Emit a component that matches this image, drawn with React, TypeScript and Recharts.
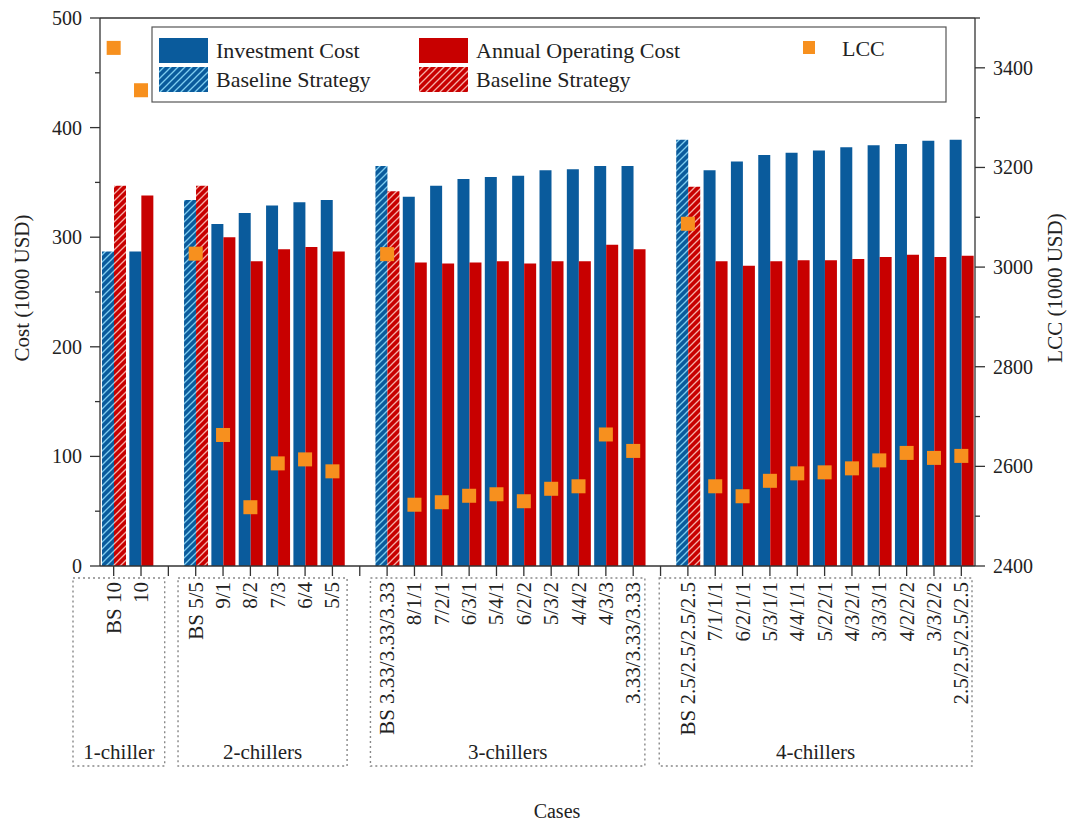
import React from "react";
import { Bar, Cell, ComposedChart, ReferenceLine, Scatter, XAxis, YAxis } from "recharts";

// cases per group, in drawing order
const GROUP_NAMES = ["1-chiller", "2-chillers", "3-chillers", "4-chillers"];
const GROUP_SIZES = [2, 6, 10, 11];
const CASES = [
  "BS 10", "10",
  "BS 5/5", "9/1", "8/2", "7/3", "6/4", "5/5",
  "BS 3.33/3.33/3.33", "8/1/1", "7/2/1", "6/3/1", "5/4/1", "6/2/2", "5/3/2", "4/4/2", "4/3/3", "3.33/3.33/3.33",
  "BS 2.5/2.5/2.5/2.5", "7/1/1/1", "6/2/1/1", "5/3/1/1", "4/4/1/1", "5/2/2/1", "4/3/2/1", "3/3/3/1", "4/2/2/2", "3/3/2/2", "2.5/2.5/2.5/2.5",
];
// 1000 USD
const INVESTMENT = [
  287, 287,
  334, 312, 322, 329, 332, 334,
  365, 337, 347, 353, 355, 356, 361, 362, 365, 365,
  389, 361, 369, 375, 377, 379, 382, 384, 385, 388, 389,
];
const OPERATING = [
  347, 338,
  347, 300, 278, 289, 291, 287,
  342, 277, 276, 277, 278, 276, 278, 278, 293, 289,
  346, 278, 274, 278, 279, 279, 280, 282, 284, 282, 283,
];
const LCC = [
  3440, 3355,
  3027, 2663, 2518, 2606, 2614, 2590,
  3026, 2523, 2528, 2541, 2544, 2530, 2555, 2560, 2664, 2631,
  3087, 2560, 2540, 2571, 2586, 2588, 2596, 2612, 2627, 2617, 2621,
];
const COST_TICKS = [0, 50, 100, 150, 200, 250, 300, 350, 400, 450, 500];
const LCC_TICKS = [2400, 2500, 2600, 2700, 2800, 2900, 3000, 3100, 3200, 3300, 3400, 3500];

const BLUE = "#0a5b9c";
const RED = "#c80000";
const ORANGE = "#f7901e";
const INK = "#222";
const AXIS = "#333";
const FONT = "'Liberation Serif', 'Times New Roman', serif";

const W = 1072;
const H = 825;
const PLOT_L = 100;
const PLOT_R = 975;
const PLOT_T = 18;
const PLOT_B = 566;
const X_AXIS_H = 60;
// extra room left/right of each group box, px
const BOX_PAD = [[27, 10], [4, 1], [3, -2], [15, -3]];

type Row = { key: string; label: string; inv?: number; op?: number; lcc?: number; bs: boolean };

const rows: Row[] = [];
{
  let i = 0;
  GROUP_SIZES.forEach((n, g) => {
    for (let k = 0; k < n; k++, i++) {
      rows.push({
        key: CASES[i],
        label: CASES[i],
        inv: INVESTMENT[i],
        op: OPERATING[i],
        lcc: LCC[i],
        bs: CASES[i].startsWith("BS "),
      });
    }
    if (g < GROUP_SIZES.length - 1) rows.push({ key: `gap${g}`, label: "", bs: false });
  });
}

function CaseTick(props: any) {
  const { x, y, payload } = props;
  const row = rows.find((r) => r.key === payload.value);
  if (!row || !row.label) return null;
  return (
    <text
      x={x}
      y={y}
      transform={`rotate(-90 ${x} ${y})`}
      textAnchor="end"
      dominantBaseline="central"
      fontSize={21}
      fontFamily={FONT}
      fill={INK}
    >
      {row.label}
    </text>
  );
}

function CostTick(props: any) {
  const { x, y, payload } = props;
  const major = payload.value % 100 === 0;
  const ax = x + 18;
  return (
    <g>
      <line x1={ax - (major ? 10 : 5)} x2={ax} y1={y} y2={y} stroke={AXIS} strokeWidth={1.3} />
      {major && (
        <text x={x} y={y} textAnchor="end" dominantBaseline="central" fontSize={20} fontFamily={FONT} fill={INK}>
          {payload.value}
        </text>
      )}
    </g>
  );
}

function LccTick(props: any) {
  const { x, y, payload } = props;
  const major = (payload.value - 2400) % 200 === 0;
  const ax = x - 18;
  return (
    <g>
      <line x1={ax} x2={ax + (major ? 10 : 5)} y1={y} y2={y} stroke={AXIS} strokeWidth={1.3} />
      {major && (
        <text x={x} y={y} textAnchor="start" dominantBaseline="central" fontSize={20} fontFamily={FONT} fill={INK}>
          {payload.value}
        </text>
      )}
    </g>
  );
}

function LccSquare(props: any) {
  const { cx, cy, payload } = props;
  if (payload?.lcc == null || !Number.isFinite(cx) || !Number.isFinite(cy)) return null;
  return <rect x={cx - 7} y={cy - 7} width={14} height={14} fill={ORANGE} />;
}

function Overlay() {
  const slots = rows.length;
  const band = (PLOT_R - PLOT_L) / slots;
  let start = 0;
  const boxes = GROUP_SIZES.map((n, g) => {
    const x1 = PLOT_L + start * band - BOX_PAD[g][0];
    const x2 = PLOT_L + (start + n) * band + BOX_PAD[g][1];
    start += n + 1;
    return { name: GROUP_NAMES[g], x1, x2 };
  });
  const legendText = { fontSize: 22, fontFamily: FONT, fill: INK } as const;
  return (
    <svg width={W} height={H} style={{ position: "absolute", left: 0, top: 0, pointerEvents: "none" }}>
      <defs>
        <pattern id="hatchBlue" patternUnits="userSpaceOnUse" width={7} height={7}>
          <rect width={7} height={7} fill={BLUE} />
          <path d="M-1,1 l2,-2 M0,7 l7,-7 M6,8 l2,-2" stroke="#7fcdf0" strokeWidth={1.3} />
        </pattern>
        <pattern id="hatchRed" patternUnits="userSpaceOnUse" width={7} height={7}>
          <rect width={7} height={7} fill={RED} />
          <path d="M-1,1 l2,-2 M0,7 l7,-7 M6,8 l2,-2" stroke="#f5b0a8" strokeWidth={1.3} />
        </pattern>
      </defs>

      {/* legend */}
      <rect x={152} y={27} width={794} height={75} fill="#fff" stroke="#555" strokeWidth={1.2} />
      <rect x={159} y={38} width={49} height={25} fill={BLUE} />
      <rect x={159} y={67} width={49} height={25} fill="url(#hatchBlue)" />
      <text x={216} y={58} {...legendText}>Investment Cost</text>
      <text x={216} y={87} {...legendText}>Baseline Strategy</text>
      <rect x={419} y={38} width={49} height={25} fill={RED} />
      <rect x={419} y={67} width={49} height={25} fill="url(#hatchRed)" />
      <text x={476} y={58} {...legendText}>Annual Operating Cost</text>
      <text x={476} y={87} {...legendText}>Baseline Strategy</text>
      <rect x={803} y={41} width={12} height={13} fill={ORANGE} />
      <text x={842} y={56} {...legendText}>LCC</text>

      {/* axis titles */}
      <text x={22} y={288} transform="rotate(-90 22 288)" textAnchor="middle" dominantBaseline="central" fontSize={21} fontFamily={FONT} fill={INK}>
        Cost (1000 USD)
      </text>
      <text x={1055} y={288} transform="rotate(-90 1055 288)" textAnchor="middle" dominantBaseline="central" fontSize={21} fontFamily={FONT} fill={INK}>
        LCC (1000 USD)
      </text>
      <text x={557} y={818} textAnchor="middle" fontSize={20} fontFamily={FONT} fill={INK}>
        Cases
      </text>

      {/* group boxes */}
      {boxes.map((b) => (
        <g key={b.name}>
          <rect x={b.x1} y={578} width={b.x2 - b.x1} height={188} fill="none" stroke="#888" strokeWidth={1.4} strokeDasharray="2 3" />
          <text x={(b.x1 + b.x2) / 2} y={759} textAnchor="middle" fontSize={21} fontFamily={FONT} fill={INK}>
            {b.name}
          </text>
        </g>
      ))}
    </svg>
  );
}

export default function App() {
  return (
    <div style={{ position: "absolute", left: 0, top: 0, width: W, height: H, background: "#fff" }}>
      <ComposedChart
        width={W}
        height={H}
        data={rows}
        barCategoryGap={2}
        barGap={0}
        margin={{ top: PLOT_T, left: PLOT_L - 60, right: W - PLOT_R - 60, bottom: H - PLOT_B - X_AXIS_H }}
      >
        <XAxis
          dataKey="key"
          interval={0}
          height={X_AXIS_H}
          tick={<CaseTick />}
          tickSize={10}
          tickMargin={6}
          stroke={AXIS}
          tickLine={{ stroke: AXIS, strokeWidth: 1.3 }}
          axisLine={{ stroke: AXIS, strokeWidth: 1.3 }}
        />
        <YAxis
          yAxisId="left"
          width={60}
          domain={[0, 500]}
          ticks={COST_TICKS}
          interval={0}
          tick={<CostTick />}
          tickLine={false}
          tickSize={10}
          tickMargin={8}
          axisLine={{ stroke: AXIS, strokeWidth: 1.3 }}
        />
        <YAxis
          yAxisId="right"
          orientation="right"
          width={60}
          domain={[2400, 3500]}
          ticks={LCC_TICKS}
          interval={0}
          tick={<LccTick />}
          tickLine={false}
          tickSize={10}
          tickMargin={8}
          axisLine={{ stroke: AXIS, strokeWidth: 1.3 }}
        />
        <ReferenceLine yAxisId="left" y={500} stroke={AXIS} strokeWidth={1.3} />
        <Bar yAxisId="left" dataKey="inv" isAnimationActive={false}>
          {rows.map((r) => (
            <Cell key={r.key} fill={r.bs ? "url(#hatchBlue)" : BLUE} />
          ))}
        </Bar>
        <Bar yAxisId="left" dataKey="op" isAnimationActive={false}>
          {rows.map((r) => (
            <Cell key={r.key} fill={r.bs ? "url(#hatchRed)" : RED} />
          ))}
        </Bar>
        <Scatter yAxisId="right" dataKey="lcc" shape={LccSquare} isAnimationActive={false} />
      </ComposedChart>
      <Overlay />
    </div>
  );
}
